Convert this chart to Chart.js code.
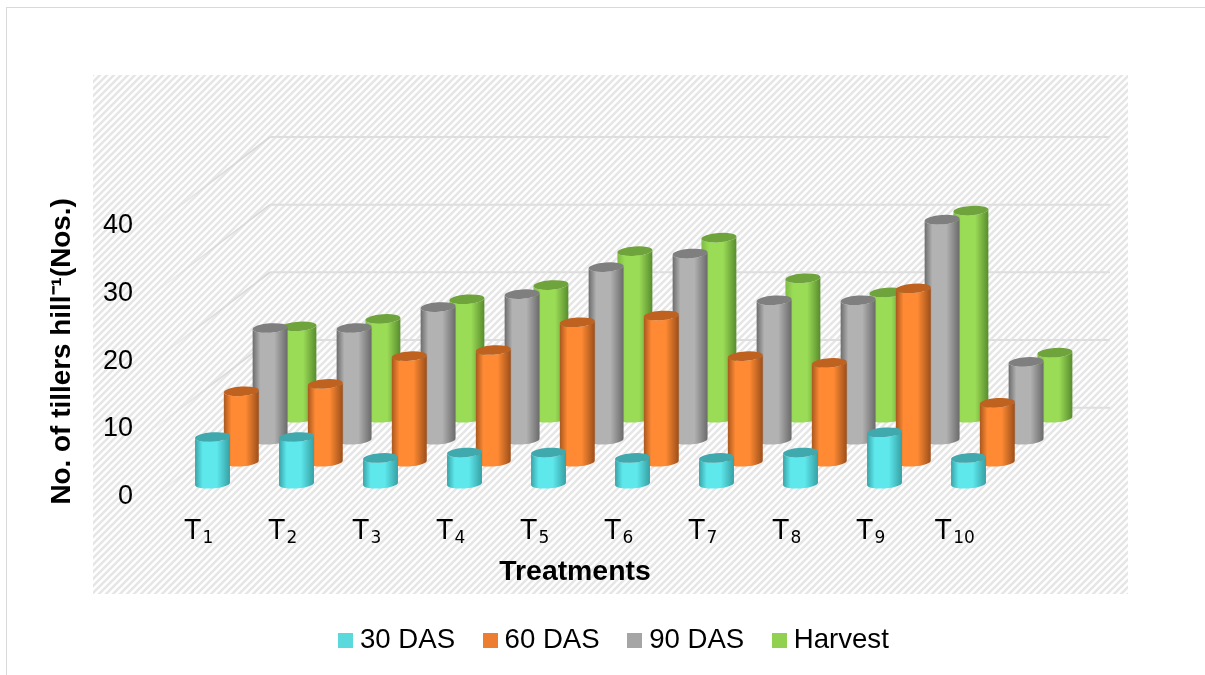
<!DOCTYPE html>
<html>
<head>
<meta charset="utf-8">
<style>
  html, body { margin: 0; padding: 0; background: #fff; overflow: hidden; }
  #frame { position: absolute; left: 6px; top: 7px; right: 0; bottom: 0; border-left: 1.5px solid #d9d9d9; border-top: 1.5px solid #d9d9d9; }
  canvas { position: absolute; left: 0; top: 0; }
</style>
<script src="https://cdn.jsdelivr.net/npm/chart.js@4/dist/chart.umd.min.js"></script>
</head>
<body>
<div id="frame"></div>
<canvas id="chart" width="1205" height="675"></canvas>
<script>
const categories = ["T1", "T2", "T3", "T4", "T5", "T6", "T7", "T8", "T9", "T10"];
const das30 = [6.9, 6.9, 3.8, 4.6, 4.6, 3.8, 3.8, 4.6, 7.6, 3.8];
const das60 = [10.4, 11.5, 15.6, 16.5, 20.6, 21.6, 15.6, 14.6, 25.6, 8.7];
const das90 = [16.5, 16.5, 19.6, 21.5, 25.5, 27.5, 20.6, 20.6, 32.5, 11.5];
const harvest = [13.5, 14.6, 17.5, 19.6, 24.6, 26.6, 20.6, 18.5, 30.6, 9.6];
const yTicks = [0, 10, 20, 30, 40];
const seriesNames = ["30 DAS", "60 DAS", "90 DAS", "Harvest"];
const seriesValues = [das30, das60, das90, harvest];
const legendColors = ["#5bd9dc", "#ed7d31", "#a5a5a5", "#92d050"];

// side gradient stops + darker top cap for each cylinder colour
const bodyShades = [
  ["#38a4a8", "#5ee8ec", "#36a0a4"],
  ["#a9581e", "#ff8a33", "#9c4f1a"],
  ["#6c6c6c", "#b2b2b2", "#6a6a6a"],
  ["#7fbc45", "#9bdc56", "#588c2d"]
];
const capColors = ["#3fa9ae", "#bf611f", "#7f7f7f", "#6fa33c"];

// fake 3D: floor depth of the back wall and of each series row
const DEPTH_X = 115, DEPTH_Y = 88;
const rowX = (k) => 15.5 + 28.8 * k;
const rowY = (k) => 12 + 22 * k;
const CAP_RY = 4.7, TILT = -0.07;

function legendSwatch(color) {
  const c = document.createElement("canvas");
  c.width = 15; c.height = 15;
  const g = c.getContext("2d");
  g.fillStyle = color;
  g.fillRect(0, 0, 15, 15);
  return c;
}

function hatchPattern(ctx) {
  const c = document.createElement("canvas");
  c.width = 7; c.height = 7;
  const g = c.getContext("2d");
  g.fillStyle = "#ffffff";
  g.fillRect(0, 0, 7, 7);
  g.strokeStyle = "#e6e6e6";
  g.lineWidth = 2.6;
  [[-7, 7, 7, -7], [0, 7, 7, 0], [0, 14, 14, 0]].forEach(([a, b, e, d]) => {
    g.beginPath(); g.moveTo(a, b); g.lineTo(e, d); g.stroke();
  });
  return ctx.createPattern(c, "repeat");
}

function drawCylinder(ctx, cx, topY, baseY, r, k) {
  const shade = bodyShades[k];
  const grad = ctx.createLinearGradient(cx - r, 0, cx + r, 0);
  grad.addColorStop(0, shade[0]);
  grad.addColorStop(0.22, shade[1]);
  grad.addColorStop(0.62, shade[1]);
  grad.addColorStop(1, shade[2]);
  ctx.beginPath();
  ctx.ellipse(cx, topY, r, CAP_RY, TILT, Math.PI, 0, true);
  ctx.ellipse(cx, baseY, r, CAP_RY, TILT, 0, Math.PI, false);
  ctx.closePath();
  ctx.fillStyle = grad;
  ctx.fill();
  ctx.beginPath();
  ctx.ellipse(cx, topY, r, CAP_RY, TILT, 0, Math.PI * 2);
  ctx.fillStyle = capColors[k];
  ctx.fill();
}

// T with a large subscript number, the canvas has no inline subscript
function drawCategoryLabels(chart) {
  const ctx = chart.ctx, x = chart.scales.x;
  ctx.save();
  ctx.fillStyle = "#000";
  ctx.textAlign = "left";
  ctx.textBaseline = "alphabetic";
  categories.forEach((name, i) => {
    const sub = name.slice(1);
    ctx.font = "26px 'DejaVu Sans'";
    const tw = ctx.measureText("T").width;
    ctx.font = "17px 'DejaVu Sans'";
    const sw = ctx.measureText(sub).width;
    const left = x.getPixelForTick(i) + 2 - (tw + 2 + sw) / 2;
    ctx.font = "26px 'DejaVu Sans'";
    ctx.fillText("T", left, 539);
    ctx.font = "17px 'DejaVu Sans'";
    ctx.fillText(sub, left + tw + 2, 543);
  });
  ctx.restore();
}

const scenePlugin = {
  id: "scene",
  beforeDraw(chart) {
    const ctx = chart.ctx;
    ctx.save();
    ctx.fillStyle = hatchPattern(ctx);
    ctx.fillRect(93, 75, 1035, 519);
    ctx.restore();
    drawCategoryLabels(chart);
  },
  beforeDatasetsDraw(chart) {
    const ctx = chart.ctx, area = chart.chartArea, y = chart.scales.y;
    ctx.save();
    // back wall + side wall gridlines
    y.ticks.forEach((t) => {
      const py = y.getPixelForValue(t.value);
      const fade = ctx.createLinearGradient(area.left, py, area.left + DEPTH_X, py - DEPTH_Y);
      fade.addColorStop(0, "rgba(215,215,215,0.15)");
      fade.addColorStop(0.5, "rgba(215,215,215,0.8)");
      fade.addColorStop(1, "rgba(215,215,215,1)");
      ctx.strokeStyle = fade;
      ctx.lineWidth = 1.8;
      ctx.beginPath();
      ctx.moveTo(area.left, py);
      ctx.lineTo(area.left + DEPTH_X, py - DEPTH_Y);
      ctx.stroke();
      ctx.strokeStyle = "#dedede";
      ctx.lineWidth = 2;
      ctx.beginPath();
      ctx.moveTo(area.left + DEPTH_X, py - DEPTH_Y);
      ctx.lineTo(area.right + DEPTH_X, py - DEPTH_Y);
      ctx.stroke();
    });
    // cylinders, back row first
    for (let k = seriesValues.length - 1; k >= 0; k--) {
      chart.getDatasetMeta(k).data.forEach((bar) => {
        drawCylinder(ctx, bar.x + rowX(k), bar.y - rowY(k), bar.base - rowY(k), bar.width / 2, k);
      });
    }
    ctx.restore();
    return false; // stop the flat default bars
  }
};

new Chart(document.getElementById("chart"), {
  type: "bar",
  data: {
    labels: categories,
    datasets: seriesNames.map((name, k) => ({
      label: name,
      data: seriesValues[k],
      backgroundColor: legendColors[k],
      barThickness: 35,
      grouped: false
    }))
  },
  plugins: [scenePlugin],
  options: {
    responsive: false,
    animation: false,
    layout: { padding: { left: 29, right: 0, top: 207, bottom: 11 } },
    scales: {
      x: {
        grid: { display: false, drawTicks: false },
        border: { display: false },
        afterFit: (s) => { s.height = 96; },
        ticks: { display: false },
        title: { display: true, text: "Treatments", color: "#000", padding: { top: 0, bottom: 2 }, font: { family: "'Liberation Sans'", size: 28.4, weight: "bold" } }
      },
      y: {
        min: 0,
        max: 42.65,
        grid: { display: false, drawTicks: false },
        border: { display: false },
        afterFit: (s) => { s.width = 126; },
        afterBuildTicks: (s) => { s.ticks = yTicks.map((value) => ({ value })); },
        ticks: { color: "#000", padding: 22, labelOffset: 1, font: { family: "'Liberation Sans'", size: 27 } },
        title: { display: true, text: "No. of tillers hill⁻¹(Nos.)", color: "#000", padding: { top: 17, bottom: 0 }, font: { family: "'Liberation Sans'", size: 27.9, weight: "bold" } }
      },
      // empty axis, only reserves the room the depth of the plot runs into
      spacer: {
        position: "right",
        grid: { display: false, drawTicks: false },
        border: { display: false },
        ticks: { display: false },
        afterFit: (s) => { s.width = 210; }
      }
    },
    plugins: {
      tooltip: { enabled: false },
      legend: {
        position: "bottom",
        labels: {
          usePointStyle: true,
          pointStyleWidth: 1,
          padding: 34.7,
          color: "#000",
          font: { family: "'Liberation Sans'", size: 27.6 },
          generateLabels: () => seriesNames.map((name, k) => ({
            text: name,
            fillStyle: legendColors[k],
            strokeStyle: legendColors[k],
            lineWidth: 0,
            pointStyle: legendSwatch(legendColors[k]),
            datasetIndex: k
          }))
        }
      }
    }
  }
});
</script>
</body>
</html>
